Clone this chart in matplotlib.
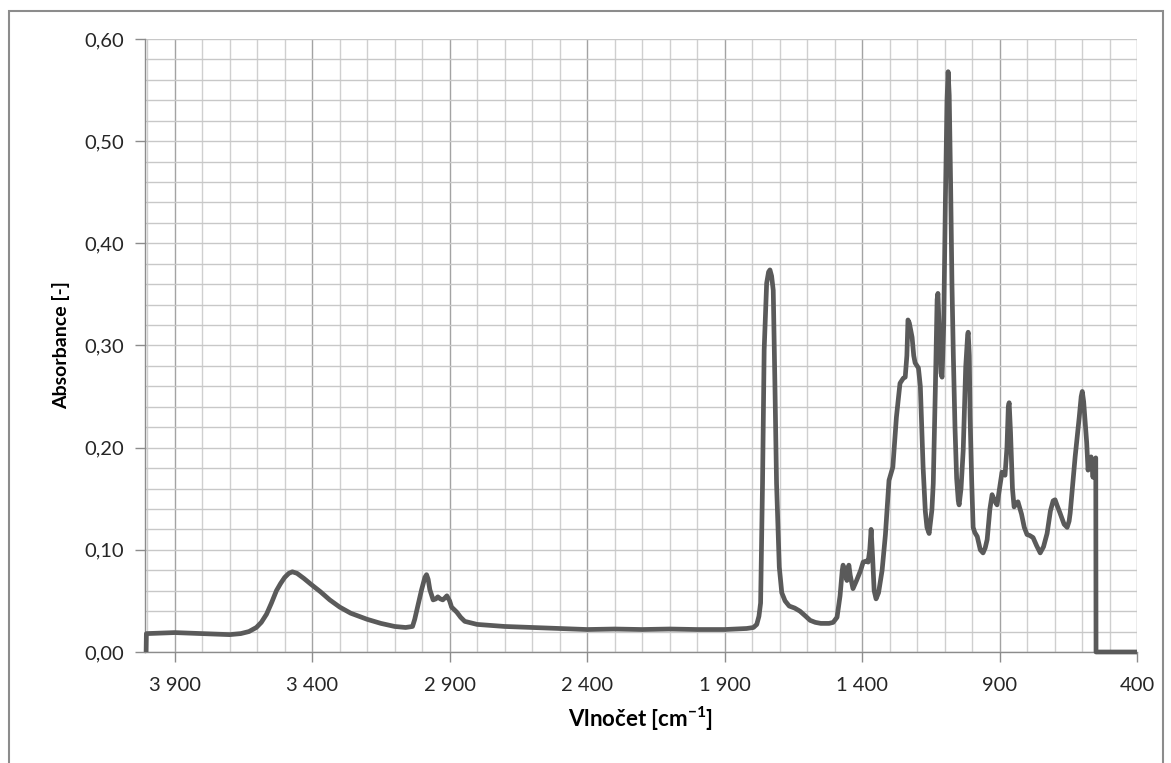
import numpy as np
import matplotlib
matplotlib.use("Agg")
import matplotlib.pyplot as plt
from matplotlib.ticker import FixedLocator, MultipleLocator, FuncFormatter
from matplotlib.patches import Rectangle

plt.rcParams['font.family'] = ['Lato', 'DejaVu Sans']
plt.rcParams['mathtext.fontset'] = 'custom'
plt.rcParams['mathtext.rm'] = 'Lato'
plt.rcParams['mathtext.bf'] = 'Lato:bold'

# FTIR spectrum, wavenumber [cm-1] vs absorbance
wavenumber = [
    4004, 4003, 3950, 3900, 3850, 3800, 3750, 3700, 3660, 3630, 3603, 3585,
    3566, 3548, 3530, 3515, 3500, 3485, 3472, 3455, 3430, 3403, 3370, 3336,
    3300, 3260, 3200, 3150, 3100, 3060, 3035, 3027, 3015, 3002, 2990, 2984,
    2978, 2972, 2960, 2950, 2943, 2934, 2925, 2917, 2910, 2900, 2893, 2874,
    2860, 2845, 2800, 2700, 2600, 2500, 2400, 2300, 2200, 2100, 2000, 1900,
    1820, 1795, 1783, 1775, 1769, 1762, 1756, 1747, 1740, 1735, 1729, 1723,
    1717, 1711, 1701, 1692, 1680, 1665, 1645, 1626, 1605, 1589, 1570, 1550,
    1520, 1505, 1491, 1480, 1472, 1469, 1462, 1455, 1451, 1448, 1443, 1433,
    1420, 1405, 1396, 1385, 1378, 1372, 1367, 1362, 1356, 1349, 1340, 1327,
    1315, 1302, 1288, 1275, 1262, 1250, 1243, 1237, 1233, 1228, 1218, 1212,
    1207, 1195, 1188, 1178, 1170, 1164, 1156, 1146, 1141, 1133, 1127, 1124,
    1119, 1113, 1109, 1103, 1097, 1091, 1087, 1083, 1078, 1073, 1068, 1062,
    1056, 1050, 1047, 1040, 1032, 1023, 1016, 1014, 1010, 1007, 1001, 996,
    990, 981, 970, 960, 952, 945, 935, 927, 918, 909, 900, 891,
    880, 873, 868, 865, 860, 853, 847, 840, 833, 820, 810, 800,
    790, 778, 765, 752, 740, 727, 715, 705, 698, 690, 680, 665,
    654, 647, 643, 632, 625, 618, 610, 603, 599, 594, 587, 583,
    578, 575, 570, 567, 563, 560, 556, 553, 550, 549, 400,
]
absorbance = [
    0.000, 0.018, 0.0185, 0.019, 0.0185, 0.018, 0.0175, 0.017, 0.018, 0.020, 0.024, 0.029,
    0.037, 0.048, 0.060, 0.067, 0.073, 0.077, 0.0785, 0.077, 0.072, 0.066, 0.059, 0.051,
    0.044, 0.038, 0.032, 0.028, 0.025, 0.024, 0.025, 0.032, 0.046, 0.061, 0.073, 0.0757,
    0.071, 0.061, 0.051, 0.052, 0.054, 0.052, 0.051, 0.053, 0.055, 0.050, 0.044, 0.039,
    0.034, 0.030, 0.027, 0.025, 0.024, 0.023, 0.022, 0.0225, 0.022, 0.0225, 0.022, 0.022,
    0.023, 0.024, 0.027, 0.035, 0.048, 0.165, 0.296, 0.361, 0.372, 0.374, 0.368, 0.354,
    0.263, 0.165, 0.083, 0.058, 0.050, 0.045, 0.043, 0.040, 0.035, 0.031, 0.029, 0.028,
    0.028, 0.029, 0.034, 0.055, 0.080, 0.085, 0.078, 0.070, 0.080, 0.085, 0.075, 0.062,
    0.070, 0.080, 0.088, 0.089, 0.088, 0.100, 0.120, 0.095, 0.060, 0.052, 0.058, 0.080,
    0.115, 0.168, 0.181, 0.230, 0.263, 0.268, 0.269, 0.290, 0.325, 0.322, 0.308, 0.290,
    0.283, 0.278, 0.260, 0.181, 0.138, 0.122, 0.116, 0.139, 0.165, 0.263, 0.345, 0.351,
    0.312, 0.273, 0.269, 0.320, 0.440, 0.540, 0.568, 0.545, 0.460, 0.360, 0.290, 0.220,
    0.170, 0.148, 0.144, 0.160, 0.198, 0.279, 0.310, 0.313, 0.290, 0.230, 0.165, 0.122,
    0.117, 0.113, 0.100, 0.097, 0.102, 0.110, 0.140, 0.154, 0.148, 0.144, 0.160, 0.176,
    0.173, 0.200, 0.240, 0.244, 0.215, 0.160, 0.142, 0.145, 0.147, 0.135, 0.122, 0.115,
    0.114, 0.112, 0.104, 0.097, 0.103, 0.116, 0.138, 0.148, 0.149, 0.143, 0.136, 0.125,
    0.122, 0.128, 0.136, 0.170, 0.191, 0.209, 0.230, 0.250, 0.255, 0.245, 0.220, 0.205,
    0.178, 0.185, 0.190, 0.191, 0.180, 0.171, 0.186, 0.188, 0.190, 0.000, 0.000,
]

x_major = [3900, 3400, 2900, 2400, 1900, 1400, 900, 400]
x_minor = list(range(400, 4001, 100))

W, H = 1171, 763
fig = plt.figure(figsize=(W / 100, H / 100), dpi=100)
ax = fig.add_axes([145 / W, 111 / H, 992 / W, 613 / H])

ax.plot(wavenumber, absorbance, color='#5a5a5a', lw=3.4,
        solid_joinstyle='round', solid_capstyle='butt', zorder=3, clip_on=False)

ax.set_xlim(4008, 400)
ax.set_ylim(0, 0.6)

ax.xaxis.set_major_locator(FixedLocator(x_major))
ax.xaxis.set_minor_locator(FixedLocator(x_minor))
ax.yaxis.set_major_locator(MultipleLocator(0.1))
ax.yaxis.set_minor_locator(MultipleLocator(0.02))

ax.xaxis.set_major_formatter(FuncFormatter(lambda v, p: f"{int(round(v)):,}".replace(",", " ")))
ax.yaxis.set_major_formatter(FuncFormatter(lambda v, p: f"{v:.2f}".replace(".", ",")))

ax.grid(which='major', axis='x', color='#a3a3a3', lw=1.0, zorder=0)
ax.grid(which='minor', axis='x', color='#cfcfcf', lw=1.0, zorder=0)
ax.grid(which='both', axis='y', color='#c8c8c8', lw=1.0, zorder=0)
ax.set_axisbelow(True)

for side in ('top', 'right'):
    ax.spines[side].set_visible(False)
for side in ('left', 'bottom'):
    ax.spines[side].set_color('#8c8c8c')
    ax.spines[side].set_linewidth(1.0)

ax.tick_params(which='major', length=7, width=1, color='#8c8c8c',
               labelsize=14.5, labelcolor='#262626')
ax.tick_params(which='minor', length=0)
ax.tick_params(axis='x', pad=11)
ax.tick_params(axis='y', pad=8)

ax.set_xlabel(r'Vlnočet [cm$^{\mathbf{-1}}$]', fontsize=16, fontweight='bold',
              color='#000000', labelpad=8)
ax.set_ylabel('Absorbance [-]', fontsize=14, fontweight='bold', color='#000000',
              labelpad=10)

# chart area border
fig.patches.append(Rectangle((9 / W, -5 / H), (1163 - 9) / W, (763 - 11 + 5) / H,
                             transform=fig.transFigure, fill=False,
                             edgecolor='#8c8c8c', lw=1.5, zorder=0))

fig.savefig('out.png', dpi=100, facecolor='white')
